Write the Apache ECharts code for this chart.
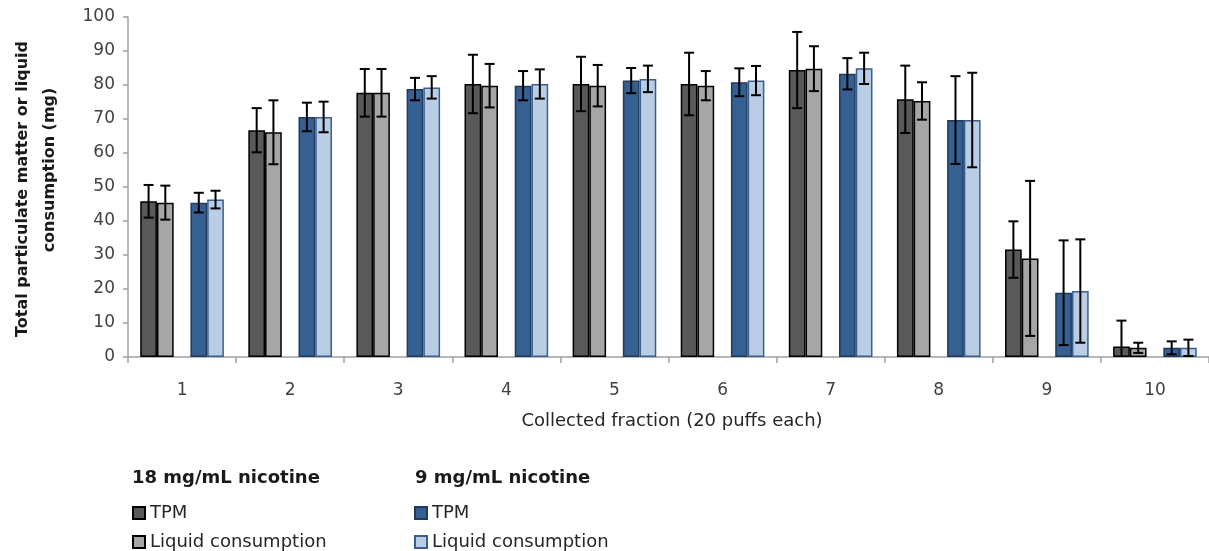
<!DOCTYPE html>
<html>
<head>
<meta charset="utf-8">
<script src="https://cdn.jsdelivr.net/npm/echarts@6/dist/echarts.min.js"></script>
<style>
  html, body { margin: 0; padding: 0; background: #fff; }
  #chart { width: 1209px; height: 551px; }
</style>
</head>
<body>
<div id="chart"></div>
<script>
// Collected fractions (20 puffs each)
const fractions = ['1', '2', '3', '4', '5', '6', '7', '8', '9', '10'];

// 18 mg/mL nicotine liquid
const tpm18 = [45.8, 66.7, 77.7, 80.3, 80.3, 80.3, 84.4, 75.8, 31.6, 3.1];
const tpm18Err = [4.8, 6.5, 7.0, 8.6, 8.0, 9.2, 11.2, 9.9, 8.3, 7.6];
const liq18 = [45.4, 66.1, 77.7, 79.8, 79.8, 79.8, 84.8, 75.3, 29.0, 2.7];
const liq18Err = [5.0, 9.4, 7.0, 6.4, 6.1, 4.3, 6.6, 5.5, 22.8, 1.5];

// 9 mg/mL nicotine liquid
const tpm9 = [45.4, 70.6, 78.8, 79.8, 81.3, 80.8, 83.3, 69.7, 18.9, 2.7];
const tpm9Err = [2.9, 4.2, 3.3, 4.3, 3.7, 4.1, 4.6, 12.9, 15.4, 1.9];
const liq9 = [46.3, 70.6, 79.3, 80.3, 81.8, 81.3, 84.9, 69.7, 19.4, 2.7];
const liq9Err = [2.6, 4.5, 3.3, 4.3, 3.9, 4.3, 4.6, 13.9, 15.2, 2.4];

// y-axis ticks
const yMin = 0, yMax = 100, yStep = 10;

// Five bar slots per category: two 18 mg/mL bars, an empty spacer, two 9 mg/mL bars
const SLOTS = 5;
const CAT_GAP = 0.226;

const groups = [
  { name: '18 mg/mL nicotine: TPM', label: 'TPM', values: tpm18, err: tpm18Err, slot: 0,
    color: '#595959', border: '#000000' },
  { name: '18 mg/mL nicotine: Liquid consumption', label: 'Liquid consumption', values: liq18, err: liq18Err, slot: 1,
    color: '#a6a6a6', border: '#000000' },
  { name: '9 mg/mL nicotine: TPM', label: 'TPM', values: tpm9, err: tpm9Err, slot: 3,
    color: '#376092', border: '#1f3a5c' },
  { name: '9 mg/mL nicotine: Liquid consumption', label: 'Liquid consumption', values: liq9, err: liq9Err, slot: 4,
    color: '#b9cde5', border: '#3b5f8c' }
];

const labelOf = {};
groups.forEach(g => { labelOf[g.name] = g.label; });

function barSeries(g) {
  return {
    type: 'bar',
    name: g.name,
    data: g.values,
    barGap: '0%',
    barCategoryGap: (CAT_GAP * 100) + '%',
    itemStyle: { color: g.color, borderColor: g.border, borderWidth: 1.5 },
    emphasis: { disabled: true },
    z: 2
  };
}

const spacer = {
  type: 'bar',
  name: 'spacer',
  data: fractions.map(() => null),
  barGap: '0%',
  barCategoryGap: (CAT_GAP * 100) + '%',
  z: 2
};

// Error bar rows: [category, low, high, slot, draw lower cap]
const errRows = [];
groups.forEach(g => {
  g.values.forEach((v, i) => {
    const lo = v - g.err[i];
    errRows.push([i, Math.max(yMin, lo), v + g.err[i], g.slot, lo >= yMin ? 1 : 0]);
  });
});

function renderErr(params, api) {
  const cat = api.value(0);
  const lo = api.value(1);
  const hi = api.value(2);
  const slot = api.value(3);
  const capLo = api.value(4);
  const band = api.size([1, 0])[0];
  const bw = band * (1 - CAT_GAP) / SLOTS;
  const x = api.coord([cat, 0])[0] + (slot - (SLOTS - 1) / 2) * bw;
  const yHi = api.coord([cat, hi])[1];
  const yLo = api.coord([cat, lo])[1];
  const half = 5;
  const style = { stroke: '#000000', lineWidth: 2 };
  const children = [
    { type: 'line', shape: { x1: x, y1: yHi, x2: x, y2: yLo }, style },
    { type: 'line', shape: { x1: x - half, y1: yHi, x2: x + half, y2: yHi }, style }
  ];
  if (capLo) {
    children.push({ type: 'line', shape: { x1: x - half, y1: yLo, x2: x + half, y2: yLo }, style });
  }
  return { type: 'group', children };
}

const FONT = 'DejaVu Sans';

function legendBlock(left, names) {
  return {
    left: left,
    top: 504,
    orient: 'vertical',
    padding: 0,
    itemGap: 11,
    itemWidth: 12,
    itemHeight: 12,
    icon: 'rect',
    selectedMode: false,
    data: names,
    formatter: n => labelOf[n],
    textStyle: { fontFamily: FONT, fontSize: 18, lineHeight: 18, color: '#262626' }
  };
}

const chart = echarts.init(document.getElementById('chart'), null, { renderer: 'canvas' });

chart.setOption({
  animation: false,
  backgroundColor: '#ffffff',
  title: [
    { text: '18 mg/mL nicotine', left: 132, top: 469, padding: 0,
      textStyle: { fontFamily: FONT, fontWeight: 'bold', fontSize: 18, color: '#1a1a1a' } },
    { text: '9 mg/mL nicotine', left: 415, top: 469, padding: 0,
      textStyle: { fontFamily: FONT, fontWeight: 'bold', fontSize: 18, color: '#1a1a1a' } }
  ],
  legend: [
    legendBlock(132, [groups[0].name, groups[1].name]),
    legendBlock(414, [groups[2].name, groups[3].name])
  ],
  grid: { left: 128, top: 17, width: 1085, height: 340, containLabel: false },
  xAxis: {
    type: 'category',
    data: fractions,
    axisLine: { lineStyle: { color: '#a0a0a0', width: 1.5 } },
    axisTick: { show: true, length: 6, lineStyle: { color: '#a0a0a0', width: 1.5 } },
    axisLabel: { fontFamily: FONT, fontSize: 17, color: '#404040', margin: 25 }
  },
  yAxis: {
    type: 'value',
    min: yMin,
    max: yMax,
    interval: yStep,
    splitLine: { show: false },
    axisLine: { show: true, lineStyle: { color: '#a0a0a0', width: 1.5 } },
    axisTick: { show: true, length: 5, lineStyle: { color: '#a0a0a0', width: 1.5 } },
    axisLabel: { fontFamily: FONT, fontSize: 17, color: '#404040', margin: 13 }
  },
  graphic: [
    { type: 'text', x: 672, y: 421,
      style: { text: 'Collected fraction (20 puffs each)', font: '18px "DejaVu Sans"', fill: '#262626',
               align: 'center', verticalAlign: 'middle', textAlign: 'center', textVerticalAlign: 'middle' } },
    { type: 'text', x: 23, y: 189, rotation: Math.PI / 2,
      style: { text: 'Total particulate matter or liquid', font: 'bold 16px "DejaVu Sans"', fill: '#1a1a1a',
               align: 'center', verticalAlign: 'middle', textAlign: 'center', textVerticalAlign: 'middle' } },
    { type: 'text', x: 50, y: 170, rotation: Math.PI / 2,
      style: { text: 'consumption (mg)', font: 'bold 16px "DejaVu Sans"', fill: '#1a1a1a',
               align: 'center', verticalAlign: 'middle', textAlign: 'center', textVerticalAlign: 'middle' } }
  ],
  series: [
    barSeries(groups[0]),
    barSeries(groups[1]),
    spacer,
    barSeries(groups[2]),
    barSeries(groups[3]),
    {
      type: 'custom',
      name: 'error',
      data: errRows,
      renderItem: renderErr,
      encode: { x: 0, y: [1, 2] },
      z: 10,
      silent: true
    }
  ]
});
</script>
</body>
</html>
